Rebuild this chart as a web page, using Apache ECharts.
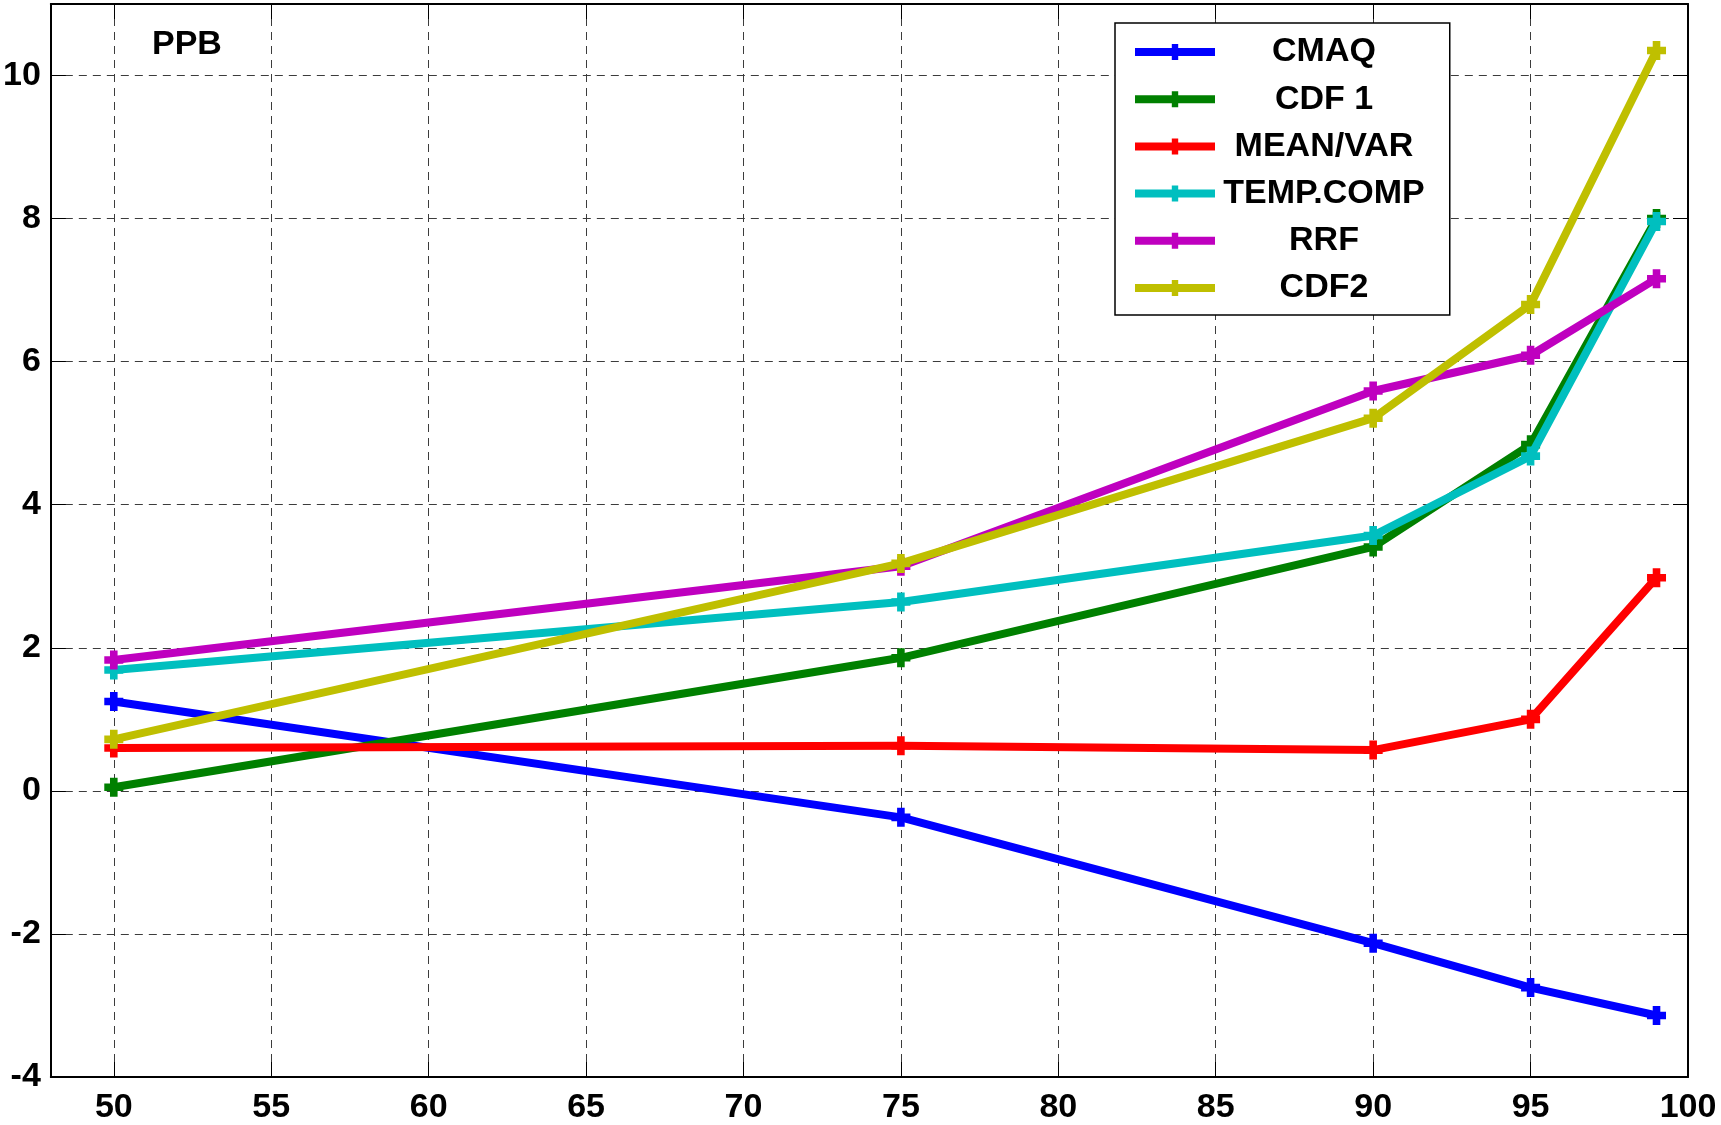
<!DOCTYPE html>
<html>
<head>
<meta charset="utf-8">
<script src="https://cdn.jsdelivr.net/npm/echarts@6/dist/echarts.min.js"></script>
<style>
  html, body { margin: 0; padding: 0; background: #ffffff; }
  #chart { width: 1721px; height: 1125px; }
</style>
</head>
<body>
<div id="chart"></div>
<script>
// Percentile positions on the x axis
const percentiles = [50, 75, 90, 95, 99];

// Values (PPB) for each method at those percentiles
const cmaq     = [1.25, -0.37, -2.13, -2.75, -3.14];
const cdf1     = [0.05, 1.86, 3.41, 4.84, 8.00];
const meanVar  = [0.60, 0.63, 0.57, 1.00, 2.98];
const tempComp = [1.69, 2.64, 3.57, 4.68, 7.96];
const rrf      = [1.83, 3.14, 5.59, 6.09, 7.16];
const cdf2     = [0.72, 3.18, 5.21, 6.80, 10.35];

const seriesNames  = ['CMAQ', 'CDF 1', 'MEAN/VAR', 'TEMP.COMP', 'RRF', 'CDF2'];
const seriesValues = [cmaq, cdf1, meanVar, tempComp, rrf, cdf2];
const seriesColors = ['#0000ff', '#008000', '#ff0000', '#00bfbf', '#bf00bf', '#bfbf00'];

// Tick labels
const xTicks = [50, 55, 60, 65, 70, 75, 80, 85, 90, 95, 100];
const yTicks = [-4, -2, 0, 2, 4, 6, 8, 10];

const FONT = '"Liberation Sans", Arial, Helvetica, sans-serif';
const plusSymbol = 'path://M3,0 H7 V3 H10 V7 H7 V10 H3 V7 H0 V3 H3 Z';

const chart = echarts.init(document.getElementById('chart'), null, { renderer: 'canvas' });

const gridLine = { show: true, lineStyle: { color: '#3c3c3c', width: 1, type: [8, 6] } };
const frameLine = { show: true, onZero: false, lineStyle: { color: '#000', width: 2 } };
const innerTick = (vals) => ({ show: true, inside: true, length: 15, customValues: vals, lineStyle: { color: '#000', width: 1 } });
const tickLabel = { fontFamily: FONT, fontWeight: 'bold', fontSize: 34, color: '#000' };

const option = {
  animation: false,
  backgroundColor: '#ffffff',
  grid: { left: 50, top: 4, right: 33, bottom: 47, containLabel: false },
  xAxis: [
    {
      type: 'value', min: 48, max: 100, position: 'bottom',
      axisLine: frameLine,
      axisTick: innerTick(xTicks),
      axisLabel: Object.assign({ customValues: xTicks, margin: 14 }, tickLabel),
      splitLine: gridLine
    },
    {
      type: 'value', min: 48, max: 100, position: 'top',
      axisLine: frameLine,
      axisTick: innerTick(xTicks),
      axisLabel: { show: false, customValues: xTicks },
      splitLine: { show: false }
    }
  ],
  yAxis: [
    {
      type: 'value', min: -4, max: 11, position: 'left',
      axisLine: frameLine,
      axisTick: innerTick(yTicks),
      axisLabel: Object.assign({ customValues: yTicks, margin: 10 }, tickLabel),
      splitLine: gridLine
    },
    {
      type: 'value', min: -4, max: 11, position: 'right',
      axisLine: frameLine,
      axisTick: innerTick(yTicks),
      axisLabel: { show: false, customValues: yTicks },
      splitLine: { show: false }
    }
  ],
  legend: {
    orient: 'vertical',
    left: 1115,
    top: 23,
    data: seriesNames,
    itemWidth: 80,
    itemHeight: 20,
    itemGap: 13.2,
    padding: [12, 25, 10, 16],
    backgroundColor: '#ffffff',
    borderColor: '#000000',
    borderWidth: 1.5,
    borderRadius: 0,
    selectedMode: false,
    lineStyle: { width: 8, cap: 'butt' },
    formatter: (name) => '{c|' + name + '}',
    textStyle: {
      rich: {
        c: {
          width: 208, align: 'center',
          fontFamily: FONT, fontWeight: 'bold', fontSize: 34, color: '#000'
        }
      }
    }
  },
  graphic: [
    {
      type: 'text', left: 152, top: 28, z: 10,
      style: { text: 'PPB', fontFamily: FONT, fontWeight: 'bold', fontSize: 34, fill: '#000' }
    }
  ],
  series: seriesNames.map((name, i) => ({
    name: name,
    type: 'line',
    xAxisIndex: 0,
    yAxisIndex: 0,
    data: percentiles.map((p, k) => [p, seriesValues[i][k]]),
    symbol: plusSymbol,
    symbolSize: 19,
    showSymbol: true,
    lineStyle: { color: seriesColors[i], width: 8, cap: 'round', join: 'round' },
    itemStyle: { color: seriesColors[i] },
    emphasis: { disabled: true },
    z: 2 + i
  }))
};

chart.setOption(option);
</script>
</body>
</html>
